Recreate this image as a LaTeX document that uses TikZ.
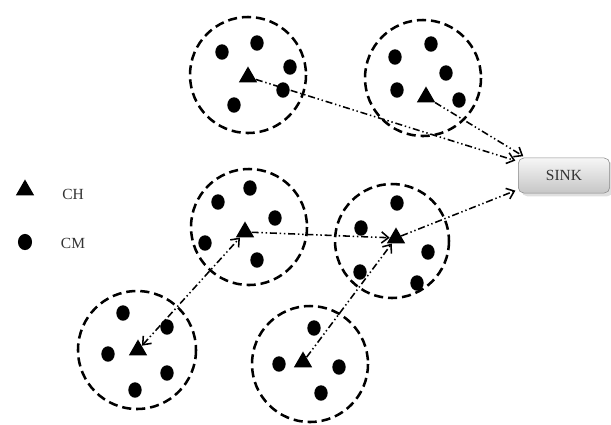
\documentclass[tikz,border=0pt]{standalone}
\usepackage{fontspec}
\setmainfont{Liberation Serif}
\usetikzlibrary{arrows.meta,shapes.geometric,shadows}
\definecolor{tinta}{HTML}{333333}
\definecolor{borde}{HTML}{8A8A8A}
\definecolor{claro}{HTML}{F6F6F6}
\definecolor{oscuro}{HTML}{C6C6C6}

\begin{document}
\begin{tikzpicture}[x=0.025cm, y=-0.025cm, >={Straight Barb[length=5pt,width=8pt]},
  font=\fontsize{11}{13}\selectfont,
  grupo/.style={draw, line width=1.8pt, dash pattern=on 6.5pt off 3.5pt},
  miembro/.style={ellipse, fill=black, inner sep=0pt, minimum width=9.5pt, minimum height=11pt},
  cabeza/.style={regular polygon, regular polygon sides=3, fill=black, inner sep=0pt, minimum size=15pt},
  enlace/.style={line width=1.1pt, dash pattern=on 5pt off 2pt on 1pt off 2pt on 1pt off 2pt}]
  \useasboundingbox (0,0) rectangle (611,424);

  % Leyenda
  \node[cabeza] (leyCH) at (25,190) {};
  \node[text=tinta] (txtCH) at (73,194) {CH};
  \node[miembro, minimum width=10pt, minimum height=11.5pt] (leyCM) at (25,242) {};
  \node[text=tinta] (txtCM) at (73,243) {CM};

  % Nodo sumidero
  \node[draw=borde, rounded corners=4pt, top color=claro, bottom color=oscuro, text=tinta,
    minimum width=65pt, minimum height=25pt, drop shadow={opacity=0.25}] (sink) at (564,175.5) {SINK};

  % Grupo 1 (arriba izquierda)
  \draw[grupo] (248,75) circle (58);
  \node[cabeza] (ch1) at (248,77) {};
  \foreach \p [count=\i] in {(222,52),(257,43),(290,67),(283,90),(234,105)}
    \node[miembro] (d1\i) at \p {};

  % Grupo 2 (arriba derecha)
  \draw[grupo] (423,78) circle (58);
  \node[cabeza] (ch2) at (426,97) {};
  \foreach \p [count=\i] in {(395,57),(431,44),(446,73),(397,90),(459,100)}
    \node[miembro] (d2\i) at \p {};

  % Grupo 3 (centro izquierda)
  \draw[grupo] (249,227) circle (58);
  \node[cabeza] (ch3) at (245,232) {};
  \foreach \p [count=\i] in {(250,188),(218,202),(275,218),(205,243),(257,260)}
    \node[miembro] (d3\i) at \p {};

  % Grupo 4 (centro derecha)
  \draw[grupo] (392,241) circle (57);
  \node[cabeza] (ch4) at (396,238) {};
  \foreach \p [count=\i] in {(397,203),(361,228),(428,252),(360,272),(417,283)}
    \node[miembro] (d4\i) at \p {};

  % Grupo 5 (abajo izquierda)
  \draw[grupo] (137,350) circle (59);
  \node[cabeza] (ch5) at (138,350) {};
  \foreach \p [count=\i] in {(123,313),(167,327),(108,354),(167,373),(135,390)}
    \node[miembro] (d5\i) at \p {};

  % Grupo 6 (abajo centro)
  \draw[grupo] (310,364) circle (58);
  \node[cabeza] (ch6) at (303,362) {};
  \foreach \p [count=\i] in {(314,328),(279,364),(339,367),(321,393)}
    \node[miembro] (d6\i) at \p {};

  % Enlaces entre cabezas de grupo
  \draw[enlace, ->, shorten >=2pt] (ch1) -- (sink.163);
  \draw[enlace, ->, shorten >=2pt] (ch2) -- (sink.155);
  \draw[enlace, ->, shorten >=2pt] (ch4) -- (sink.197);
  \draw[enlace, ->] (ch3) -- (ch4);
  \draw[enlace, <->] (ch5) -- (ch3);
  \draw[enlace, ->] (ch6) -- (ch4);
\end{tikzpicture}
\end{document}
